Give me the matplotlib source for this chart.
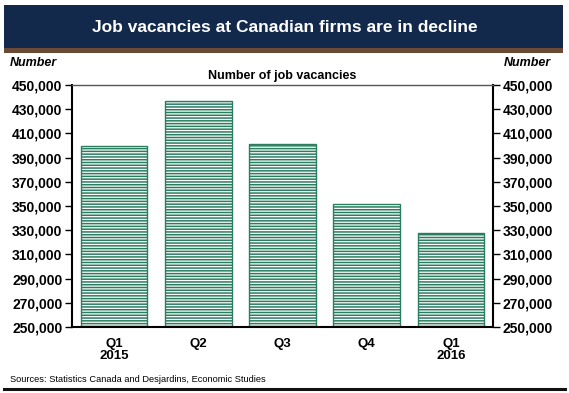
import matplotlib.pyplot as plt
from matplotlib.patches import Rectangle
from matplotlib.ticker import FuncFormatter

plt.rcParams["font.family"] = ["Liberation Sans", "DejaVu Sans"]
plt.rcParams["hatch.linewidth"] = 1.1
plt.rcParams["hatch.color"] = "#2a7d5f"

# Datos
trimestres = ["Q1\n2015", "Q2", "Q3", "Q4", "Q1\n2016"]
vacantes = [400000, 437000, 401000, 352000, 328000]
ticks_y = list(range(250000, 450001, 20000))

verde = "#2a7d5f"

fig = plt.figure(figsize=(5.69, 3.93), dpi=100)

# Encabezado
fig.patches.append(Rectangle((4 / 569, 1 - 48 / 393), 559 / 569, 43 / 393,
                             transform=fig.transFigure, facecolor="#13294b",
                             edgecolor="none"))
fig.patches.append(Rectangle((4 / 569, 1 - 53 / 393), 559 / 569, 5 / 393,
                             transform=fig.transFigure, facecolor="#6b4a35",
                             edgecolor="none"))
fig.text(0.5, 1 - 27 / 393, "Job vacancies at Canadian firms are in decline",
         ha="center", va="center", color="white", fontsize=12.5,
         fontweight="bold")

ax = fig.add_axes([72 / 569, 1 - 327 / 393, 421 / 569, 242 / 393])
bars = ax.bar(range(len(trimestres)), vacantes, width=0.79, bottom=0,
              facecolor="white", edgecolor=verde, hatch="------", linewidth=1.0)
ax.set_ylim(250000, 450000)
ax.set_xlim(-0.5, len(trimestres) - 0.5)
ax.set_yticks(ticks_y)
fmt = FuncFormatter(lambda v, p: f"{int(v):,}")
ax.yaxis.set_major_formatter(fmt)
ax.tick_params(axis="y", which="both", direction="out", length=5, width=1,
               labelsize=10, left=True, right=True, labelleft=True,
               labelright=True, pad=2)
ax.set_xticks(range(len(trimestres)))
ax.set_xticklabels(trimestres, fontsize=9.5, fontweight="bold", linespacing=1.0)
ax.tick_params(axis="x", length=0, pad=8)
for t in ax.yaxis.get_major_ticks():
    t.label1.set_fontweight("bold")
    t.label2.set_fontweight("bold")

for lado in ["left", "right", "bottom"]:
    ax.spines[lado].set_linewidth(1.5)
    ax.spines[lado].set_color("black")
ax.spines["top"].set_linewidth(1.0)
ax.spines["top"].set_color("#555555")

ax.set_title("Number of job vacancies", fontsize=9, fontweight="bold", pad=4)

fig.text(10 / 569, 1 - 63 / 393, "Number", fontsize=9, fontweight="bold",
         style="italic", ha="left", va="center")
fig.text(551 / 569, 1 - 63 / 393, "Number", fontsize=9, fontweight="bold",
         style="italic", ha="right", va="center")

fig.text(10 / 569, 1 - 379 / 393,
         "Sources: Statistics Canada and Desjardins, Economic Studies",
         fontsize=6.7, ha="left", va="center")
fig.add_artist(plt.Line2D([4 / 569, 565 / 569], [1 - 389 / 393, 1 - 389 / 393],
                          transform=fig.transFigure, color="#111111",
                          linewidth=2.2))

fig.savefig("out.png", dpi=100)
